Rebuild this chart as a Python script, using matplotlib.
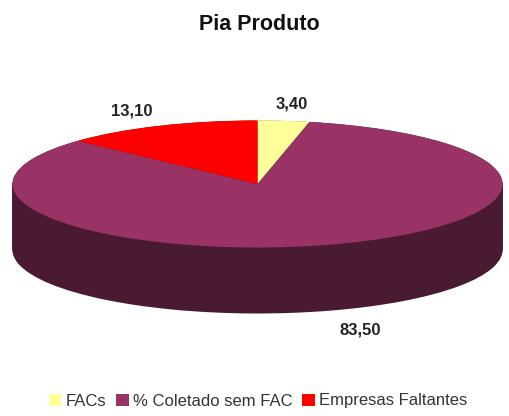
import matplotlib.pyplot as plt
from matplotlib.patches import Patch
import numpy as np

plt.rcParams['font.family'] = ['Liberation Sans', 'DejaVu Sans']

labels = ['FACs', '% Coletado sem FAC', 'Empresas Faltantes']
values = [3.40, 83.50, 13.10]
value_labels = ['3,40', '83,50', '13,10']
colors = ['#FFFF99', '#993366', '#FF0000']
side_colors = ['#80804C', '#4A1A33', '#800000']

W, H = 509, 416
cx, cy = 257.5, 184   # pie centre in pixels from top left
rx, ry = 245, 63.5
depth = 66 / ry

fig = plt.figure(figsize=(W / 100, H / 100), dpi=100)
ax = fig.add_axes([0, 0, 1, 1])

# side of the disc: same pie stacked downwards
for off in np.linspace(depth, 0, 70):
    ax.pie(values, colors=side_colors, startangle=90, counterclock=False,
           center=(0, -off), wedgeprops={'linewidth': 0})
ax.pie(values, colors=colors, startangle=90, counterclock=False,
       wedgeprops={'linewidth': 0})

ax.set_aspect('auto')
ax.set_xlim(-cx / rx, (W - cx) / rx)
ax.set_ylim(-(H - cy) / ry, cy / ry)
ax.axis('off')

# labels sit in pixel positions of the original
label_pos = [(292, 104), (360, 330), (132, 111)]
for txt, (px, py) in zip(value_labels, label_pos):
    fig.text(px / W, 1 - py / H, txt, ha='center', va='center',
             fontsize=12, fontweight='bold', color='#222222')

fig.text(259.5 / W, 1 - 24 / H, 'Pia Produto', ha='center', va='center',
         fontsize=15.5, fontweight='bold', color='#111111')

handles = [Patch(facecolor=c, edgecolor='none') for c in colors]
fig.legend(handles, labels, ncol=3, loc='center', bbox_to_anchor=(258 / W, 1 - 401 / H),
           frameon=False, fontsize=12, handlelength=0.75, handleheight=0.75,
           handletextpad=0.25, columnspacing=0.6, labelcolor='#333333')

fig.savefig('out.png', dpi=100)
